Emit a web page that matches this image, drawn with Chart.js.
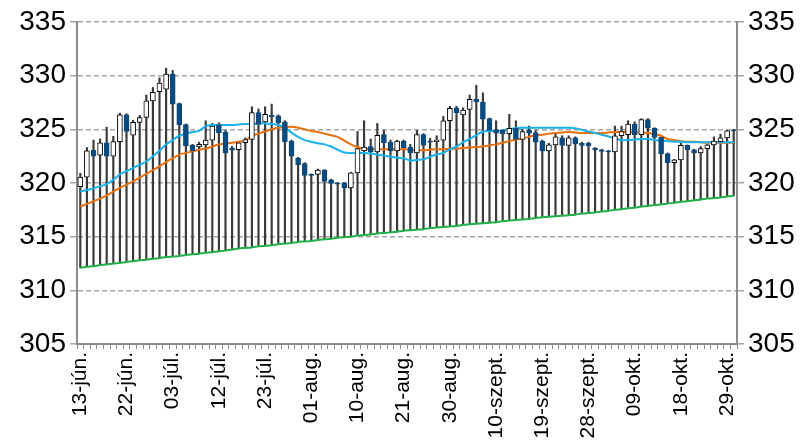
<!DOCTYPE html>
<html>
<head>
<meta charset="utf-8">
<script src="https://cdn.jsdelivr.net/npm/chart.js@4"></script>
<style>
  html, body { margin: 0; padding: 0; background: #fff; }
  #wrap { width: 809px; height: 443px; position: relative; }
</style>
</head>
<body>
<div id="wrap"><canvas id="chart"></canvas></div>
<script>
// tick labels, one every 7 trading days
const tickLabels = ['13-jún.', '22-jún.', '03-júl.', '12-júl.', '23-júl.', '01-aug.', '10-aug.',
  '21-aug.', '30-aug.', '10-szept.', '19-szept.', '28-szept.', '09-okt.', '18-okt.', '29-okt.'];
const tickStep = 7;

const openVals = [
  319.65, 320.55, 323.05, 322.6, 323.75, 322.5, 323.85, 326.35, 324.45, 325.65,
  326.1, 327.65, 328.5, 328.75, 330.15, 327.4, 325.45, 323.5, 323.35, 323.55,
  324.0, 325.45, 324.75, 323.25, 323.1, 323.75, 324.05, 326.55, 325.7, 326.3,
  326.25, 325.7, 323.9, 322.3, 321.8, 320.8, 320.8, 321.2, 320.3, 320.0,
  320.0, 319.55, 320.95, 323.0, 323.4, 322.9, 324.5, 323.8, 323.0, 323.9,
  323.35, 322.8, 324.5, 323.9, 323.85, 324.0, 325.8, 327.0, 326.35, 326.85,
  327.8, 327.55, 326.0, 324.95, 324.9, 324.6, 325.1, 324.05, 324.9, 324.7,
  323.9, 323.0, 323.55, 324.2, 323.5, 324.2, 323.7, 323.7, 323.25, 323.1,
  323.0, 322.9, 324.4, 324.5, 325.5, 324.5, 325.9, 325.1, 324.25, 322.75,
  321.9, 322.15, 323.5, 323.1, 322.8, 323.2, 323.55, 323.85, 324.2, 324.95
];
const closeVals = [
  320.55, 323.0, 322.5, 323.75, 322.5, 323.85, 326.35, 324.8, 325.65, 326.1,
  327.65, 328.45, 329.3, 330.15, 327.35, 325.4, 323.45, 323.0, 323.6, 324.0,
  325.3, 324.7, 322.8, 323.05, 323.75, 324.05, 326.55, 325.45, 326.4, 326.15,
  325.6, 323.85, 322.5, 321.7, 320.7, 320.7, 321.2, 320.15, 319.95, 319.9,
  319.55, 320.95, 323.2, 323.35, 322.9, 324.45, 323.75, 323.0, 323.9, 323.3,
  322.8, 324.5, 323.5, 323.8, 324.0, 325.8, 326.95, 326.55, 326.8, 327.8,
  327.55, 325.95, 324.9, 324.65, 324.6, 325.1, 324.05, 324.8, 324.65, 323.8,
  323.0, 323.55, 324.3, 323.5, 324.2, 323.65, 323.5, 323.45, 323.1, 322.95,
  322.9, 324.4, 324.8, 325.5, 324.5, 325.9, 325.1, 324.25, 322.7, 321.9,
  322.15, 323.5, 323.1, 322.8, 323.2, 323.55, 323.9, 324.2, 324.85, 324.85
];
const highVals = [
  320.9, 323.3, 324.0, 324.1, 325.2, 324.35, 326.5, 326.45, 325.85, 326.3,
  328.2, 328.9, 329.8, 330.7, 330.5, 327.45, 325.5, 323.6, 323.8, 325.8,
  325.55, 325.6, 324.9, 323.4, 323.9, 324.2, 327.1, 326.9, 327.1, 327.35,
  326.35, 325.8, 324.0, 322.4, 321.9, 320.85, 321.3, 321.25, 320.35, 320.05,
  320.05, 321.0, 324.8, 325.8, 324.1, 325.55, 324.9, 324.0, 324.0, 324.0,
  323.6, 324.9, 324.6, 324.15, 324.4, 326.2, 327.15, 327.15, 327.0, 328.2,
  329.1, 328.4, 326.05, 325.8, 325.0, 326.4, 325.8, 325.0, 325.3, 324.9,
  324.0, 323.7, 324.6, 324.4, 324.4, 324.3, 323.8, 323.8, 323.3, 323.15,
  323.05, 325.3, 325.3, 325.8, 325.7, 326.0, 326.0, 325.15, 324.3, 322.8,
  322.2, 323.75, 323.55, 323.15, 323.4, 323.6, 324.3, 324.55, 324.9, 325.0
];
// green line, the wicks reach down to it
const lowVals = [
  312.1, 312.2, 312.25, 312.35, 312.4, 312.5, 312.55, 312.65, 312.7, 312.8,
  312.85, 312.95, 313.0, 313.1, 313.15, 313.2, 313.3, 313.35, 313.4, 313.5,
  313.55, 313.65, 313.7, 313.8, 313.9, 313.95, 314.0, 314.1, 314.15, 314.2,
  314.3, 314.35, 314.4, 314.5, 314.55, 314.6, 314.7, 314.75, 314.8, 314.9,
  314.95, 315.0, 315.1, 315.15, 315.2, 315.3, 315.35, 315.4, 315.45, 315.55,
  315.6, 315.65, 315.7, 315.8, 315.85, 315.9, 315.95, 316.0, 316.1, 316.15,
  316.2, 316.25, 316.3, 316.35, 316.45, 316.5, 316.55, 316.6, 316.65, 316.75,
  316.8, 316.85, 316.9, 316.95, 317.0, 317.05, 317.15, 317.2, 317.25, 317.35,
  317.4, 317.5, 317.55, 317.65, 317.7, 317.8, 317.85, 317.95, 318.0, 318.1,
  318.15, 318.25, 318.3, 318.4, 318.45, 318.55, 318.6, 318.65, 318.75, 318.8
];
// short moving average (blue)
const maShort = [
  319.2, 319.35, 319.5, 319.7, 319.9, 320.3, 320.8, 321.1, 321.4, 321.7,
  322.0, 322.5, 323.0, 323.6, 324.0, 324.4, 324.6, 324.75, 324.85, 325.3,
  325.4, 325.4, 325.4, 325.4, 325.45, 325.5, 325.5, 325.55, 325.55, 325.5,
  325.4, 325.15, 324.7, 324.3, 324.0, 323.85, 323.7, 323.6, 323.4, 323.1,
  322.85, 322.8, 322.8, 322.8, 322.75, 322.65, 322.55, 322.45, 322.35, 322.3,
  322.1, 322.15, 322.2, 322.45, 322.65, 322.8, 323.15, 323.4, 323.8, 324.1,
  324.45, 324.8, 324.85, 324.85, 324.9, 325.05, 325.1, 325.15, 325.15, 325.15,
  325.15, 325.15, 325.15, 325.15, 325.15, 325.1, 324.95, 324.8, 324.65, 324.5,
  324.35, 324.15, 324.0, 324.0, 324.05, 324.1, 324.1, 324.0, 323.95, 323.9,
  323.85, 323.85, 323.8, 323.8, 323.8, 323.8, 323.8, 323.8, 323.8, 323.8
];
// long moving average (orange)
const maLong = [
  317.8, 318.05, 318.3, 318.55, 318.85, 319.2, 319.55, 319.85, 320.15, 320.5,
  320.85, 321.2, 321.55, 321.95, 322.3, 322.65, 322.8, 322.95, 323.1, 323.2,
  323.4, 323.6, 323.65, 323.75, 323.85, 323.95, 324.4, 324.6, 324.8, 325.0,
  325.15, 325.2, 325.25, 325.15, 325.0, 324.85, 324.75, 324.6, 324.45, 324.3,
  323.95, 323.6, 323.35, 323.2, 323.15, 323.15, 323.15, 323.15, 323.15, 323.15,
  323.1, 323.05, 323.05, 323.1, 323.15, 323.15, 323.2, 323.2, 323.25, 323.3,
  323.35, 323.4, 323.5, 323.6, 323.75, 323.9, 324.05, 324.15, 324.3, 324.45,
  324.5, 324.6, 324.65, 324.7, 324.75, 324.7, 324.65, 324.65, 324.65, 324.65,
  324.7, 324.75, 324.75, 324.75, 324.7, 324.7, 324.65, 324.55, 324.4, 324.1,
  324.0, 323.9, 323.85, 323.85, 323.8, 323.75, 323.75, 323.75, 323.75, 323.75
];

const upColor = '#ffffff';
const downColor = '#0b4a7e';

// category labels: a tick label on every 7th day, blank otherwise
const labels = openVals.map((_, i) => (i % tickStep === 0 ? (tickLabels[i / tickStep] || '') : ''));
const bodies = openVals.map((o, i) => [o, closeVals[i]]);
const wicks = highVals.map((h, i) => [lowVals[i], h]);
const isUp = openVals.map((o, i) => closeVals[i] >= o);

const gridColor = '#a6a6a6';
const axisColor = '#8c8c8c';
const tickFont = { family: 'Liberation Sans, Arial, sans-serif', size: 28 };

function yAxis(position, onChart) {
  return {
    type: 'linear',
    position,
    min: 305,
    max: 335,
    afterFit: s => { s.width = position === 'left' ? 77 : 72; },
    ticks: { stepSize: 5, color: '#000', font: tickFont, padding: 4 },
    grid: { color: gridColor, lineWidth: 1.5, drawOnChartArea: onChart, tickLength: 7 },
    border: { display: true, color: axisColor, width: 2, dash: [5, 3] }
  };
}

new Chart(document.getElementById('chart'), {
  data: {
    labels,
    datasets: [
      {
        type: 'bar',
        label: 'body',
        data: bodies,
        grouped: false,
        barThickness: 5,
        backgroundColor: isUp.map(u => (u ? upColor : downColor)),
        borderColor: isUp.map(u => (u ? '#000000' : downColor)),
        borderWidth: 1,
        borderSkipped: false,
        order: 0
      },
      {
        type: 'line',
        label: 'rövid átlag',
        data: maShort,
        borderColor: '#19b2ec',
        borderWidth: 2,
        pointRadius: 0,
        tension: 0.3,
        order: 1
      },
      {
        type: 'line',
        label: 'hosszú átlag',
        data: maLong,
        borderColor: '#e8700e',
        borderWidth: 2,
        pointRadius: 0,
        tension: 0.3,
        order: 1
      },
      {
        type: 'line',
        label: 'alsó',
        data: lowVals,
        borderColor: '#22b04b',
        borderWidth: 2,
        pointRadius: 0,
        tension: 0.2,
        order: 1
      },
      {
        type: 'bar',
        label: 'wick',
        data: wicks,
        grouped: false,
        barThickness: 1.5,
        backgroundColor: '#3a3a3a',
        borderWidth: 0,
        order: 2
      }
    ]
  },
  options: {
    responsive: true,
    maintainAspectRatio: false,
    animation: false,
    layout: { padding: { top: 22, left: 0, right: 0, bottom: 0 } },
    plugins: { legend: { display: false }, tooltip: { enabled: false } },
    scales: {
      x: {
        type: 'category',
        offset: true,
        afterFit: s => { s.height = 99; },
        ticks: {
          autoSkip: false,
          maxRotation: 90,
          minRotation: 90,
          color: '#000',
          padding: 3,
          font: { family: 'Liberation Sans, Arial, sans-serif', size: 21 }
        },
        grid: { display: true, drawOnChartArea: false, color: axisColor, tickLength: 5, offset: true },
        border: { display: true, color: axisColor, width: 2 }
      },
      y: yAxis('left', true),
      y2: yAxis('right', false)
    }
  }
});
</script>
</body>
</html>
